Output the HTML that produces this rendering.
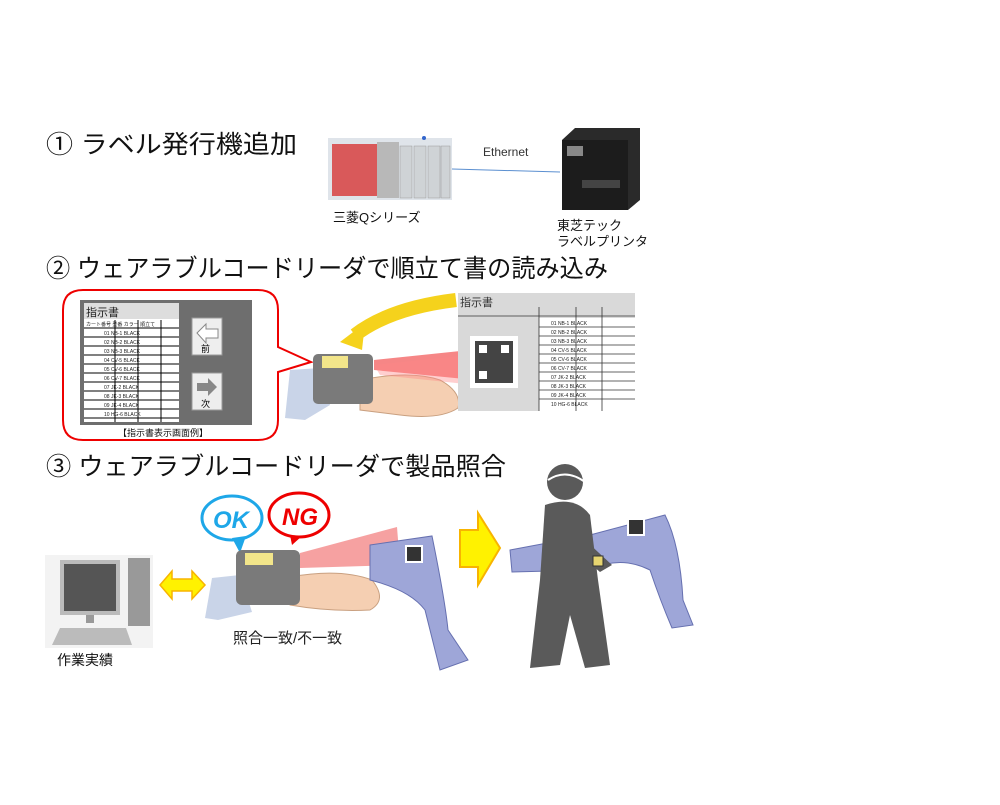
<!DOCTYPE html>
<html><head><meta charset="utf-8"><style>
html,body{margin:0;padding:0;background:#fff;}
svg text{font-family:"Liberation Sans","Noto Sans CJK JP",sans-serif;}
</style></head><body>
<svg width="1000" height="800" viewBox="0 0 1000 800" xmlns="http://www.w3.org/2000/svg">
<rect width="1000" height="800" fill="#fff"/>
<!-- Headings -->
<text x="46" y="153" font-size="25" fill="#111" textLength="251" lengthAdjust="spacingAndGlyphs">① ラベル発行機追加</text>
<text x="46" y="277" font-size="25" fill="#111" textLength="562" lengthAdjust="spacingAndGlyphs">② ウェアラブルコードリーダで順立て書の読み込み</text>
<text x="46" y="475" font-size="25" fill="#111" textLength="460" lengthAdjust="spacingAndGlyphs">③ ウェアラブルコードリーダで製品照合</text>

<!-- Section 1: PLC -->
<rect x="328" y="138" width="124" height="62" fill="#dfe4ea"/>
<rect x="332" y="144" width="45" height="52" fill="#d9595a"/>
<rect x="377" y="142" width="22" height="56" fill="#b8b8b8"/>
<g fill="#cfd3d6" stroke="#999" stroke-width="0.5">
<rect x="400" y="146" width="12" height="52"/><rect x="414" y="146" width="12" height="52"/><rect x="428" y="146" width="12" height="52"/><rect x="441" y="146" width="9" height="52"/>
</g>
<circle cx="424" cy="138" r="2" fill="#36c"/>
<line x1="452" y1="169" x2="560" y2="172" stroke="#5b8fd0" stroke-width="1"/>
<text x="483" y="156" font-size="12" fill="#333">Ethernet</text>
<!-- printer -->
<polygon points="562,140 575,128 640,128 640,200 628,210 562,210" fill="#2a2a2a"/>
<rect x="562" y="140" width="66" height="70" fill="#1c1c1c"/>
<rect x="567" y="146" width="16" height="10" fill="#888"/>
<rect x="582" y="180" width="38" height="8" fill="#444"/>
<text x="333" y="222" font-size="13" fill="#111">三菱Qシリーズ</text>
<text x="557" y="230" font-size="13" fill="#111">東芝テック</text>
<text x="557" y="246" font-size="13" fill="#111">ラベルプリンタ</text>

<!-- Section 2: callout -->
<path d="M83,290 H258 Q278,290 278,310 V347 L311,362 L278,372 V420 Q278,440 258,440 H83 Q63,440 63,420 V310 Q63,290 83,290 Z" fill="#fff" stroke="#e00" stroke-width="2"/>
<rect x="80" y="300" width="172" height="125" fill="#6e6e6e"/>
<rect x="84" y="303" width="95" height="119" fill="#fff"/>
<rect x="84" y="303" width="95" height="16" fill="#ddd"/>
<text x="86" y="316" font-size="11" fill="#222">指示書</text>
<text x="86" y="326" font-size="5" fill="#222">カート番号  型番   カラー   順立て</text>
<g stroke="#000" stroke-width="1">
<line x1="84" y1="328" x2="179" y2="328"/><line x1="84" y1="337" x2="179" y2="337"/><line x1="84" y1="346" x2="179" y2="346"/><line x1="84" y1="355" x2="179" y2="355"/><line x1="84" y1="364" x2="179" y2="364"/><line x1="84" y1="373" x2="179" y2="373"/><line x1="84" y1="382" x2="179" y2="382"/><line x1="84" y1="391" x2="179" y2="391"/><line x1="84" y1="400" x2="179" y2="400"/><line x1="84" y1="409" x2="179" y2="409"/><line x1="84" y1="418" x2="179" y2="418"/>
<line x1="115" y1="320" x2="115" y2="422"/><line x1="138" y1="320" x2="138" y2="422"/><line x1="161" y1="320" x2="161" y2="422"/>
</g>
<g font-size="5" fill="#222">
<text x="104" y="335">01 NB-1  BLACK</text><text x="104" y="344">02 NB-2  BLACK</text><text x="104" y="353">03 NB-3  BLACK</text><text x="104" y="362">04 CV-5  BLACK</text><text x="104" y="371">05 CV-6  BLACK</text><text x="104" y="380">06 CV-7  BLACK</text><text x="104" y="389">07 JK-2  BLACK</text><text x="104" y="398">08 JK-3  BLACK</text><text x="104" y="407">09 JK-4  BLACK</text><text x="104" y="416">10 HG-6  BLACK</text>
</g>
<rect x="192" y="318" width="30" height="37" fill="#eee" stroke="#999"/>
<polygon points="197,333 206,324 206,329 218,329 218,338 206,338 206,343" fill="#fff" stroke="#888"/>
<text x="201" y="352" font-size="9">前</text>
<rect x="192" y="373" width="30" height="37" fill="#eee" stroke="#999"/>
<polygon points="197,383 208,383 208,378 217,387 208,396 208,391 197,391" fill="#888"/>
<text x="201" y="407" font-size="9">次</text>
<text x="118" y="436" font-size="9" fill="#111">【指示書表示画面例】</text>

<!-- wrist sec2 -->
<polygon points="290,370 320,368 330,405 305,420 285,418" fill="#c9d4e8"/>
<path d="M360,380 Q410,370 440,380 Q462,392 458,408 Q440,420 400,415 L360,410 Z" fill="#f5cfb2" stroke="#c9a080" stroke-width="1"/>
<rect x="313" y="354" width="60" height="50" rx="5" fill="#7a7a7a"/>
<rect x="322" y="356" width="26" height="12" fill="#f2e58a"/>
<polygon points="374,360 470,350 475,380 374,370" fill="#e22" opacity="0.55"/>
<polygon points="374,365 470,355 475,385 380,375" fill="#f88" opacity="0.4"/>
<path d="M456,300 Q390,308 355,335" fill="none" stroke="#f5d21c" stroke-width="14"/>
<polygon points="340,342 365,323 362,350" fill="#f5d21c"/>
<!-- sheet -->
<rect x="458" y="293" width="177" height="118" fill="#d9d9d9"/>
<text x="460" y="306" font-size="11" fill="#333">指示書</text>
<rect x="539" y="318" width="96" height="93" fill="#fff"/>
<g stroke="#333" stroke-width="0.8">
<line x1="458" y1="316" x2="635" y2="316"/>
<line x1="539" y1="327" x2="635" y2="327"/><line x1="539" y1="336" x2="635" y2="336"/><line x1="539" y1="345" x2="635" y2="345"/><line x1="539" y1="354" x2="635" y2="354"/><line x1="539" y1="363" x2="635" y2="363"/><line x1="539" y1="372" x2="635" y2="372"/><line x1="539" y1="381" x2="635" y2="381"/><line x1="539" y1="390" x2="635" y2="390"/><line x1="539" y1="399" x2="635" y2="399"/>
<line x1="539" y1="307" x2="539" y2="411"/><line x1="576" y1="307" x2="576" y2="411"/><line x1="602" y1="307" x2="602" y2="411"/>
</g>
<g font-size="5" fill="#222">
<text x="551" y="325">01 NB-1    BLACK</text><text x="551" y="334">02 NB-2    BLACK</text><text x="551" y="343">03 NB-3    BLACK</text><text x="551" y="352">04 CV-5    BLACK</text><text x="551" y="361">05 CV-6    BLACK</text><text x="551" y="370">06 CV-7    BLACK</text><text x="551" y="379">07 JK-2    BLACK</text><text x="551" y="388">08 JK-3    BLACK</text><text x="551" y="397">09 JK-4    BLACK</text><text x="551" y="406">10 HG-6    BLACK</text>
</g>
<rect x="470" y="336" width="48" height="52" fill="#fff"/>
<rect x="475" y="341" width="38" height="42" fill="#444"/>
<rect x="479" y="345" width="8" height="8" fill="#fff"/><rect x="501" y="345" width="8" height="8" fill="#fff"/><rect x="479" y="371" width="8" height="8" fill="#fff"/>

<!-- Section 3 -->
<ellipse cx="232" cy="518" rx="30" ry="22" fill="#fff" stroke="#1ea7e8" stroke-width="3"/>
<polygon points="232,538 240,553 246,536" fill="#1ea7e8"/>
<text x="213" y="528" font-size="24" font-weight="bold" fill="#1ea7e8" font-style="italic">OK</text>
<ellipse cx="299" cy="515" rx="30" ry="22" fill="#fff" stroke="#e00" stroke-width="3"/>
<polygon points="290,535 292,545 302,536" fill="#e00"/>
<text x="282" y="525" font-size="24" font-weight="bold" fill="#e00" font-style="italic">NG</text>
<!-- computer -->
<rect x="45" y="555" width="108" height="93" fill="#f3f3f3"/>
<rect x="60" y="560" width="60" height="55" fill="#bbb"/><rect x="64" y="564" width="52" height="47" fill="#555"/>
<rect x="86" y="615" width="8" height="8" fill="#999"/>
<polygon points="60,628 126,628 132,645 52,645" fill="#bbb"/>
<rect x="128" y="558" width="22" height="68" fill="#999"/>
<text x="57" y="665" font-size="14" fill="#111">作業実績</text>
<polygon points="160,585 172,571 172,579 192,579 192,571 205,585 192,599 192,591 172,591 172,599" fill="#fff200" stroke="#f8b400" stroke-width="1.5"/>
<!-- wrist 3 -->
<polygon points="212,578 240,575 252,612 218,620 205,618" fill="#c9d4e8"/>
<path d="M290,577 Q340,568 372,580 Q388,600 370,610 Q330,612 290,605 Z" fill="#f5cfb2" stroke="#c9a080"/>
<rect x="236" y="550" width="64" height="55" rx="6" fill="#7a7a7a"/>
<rect x="245" y="553" width="28" height="12" fill="#f2e58a"/>
<polygon points="300,553 397,527 400,565 300,568" fill="#e44" opacity="0.5"/>
<text x="233" y="643" font-size="15" fill="#222">照合一致/不一致</text>
<!-- purple part -->
<path d="M370,545 L432,536 Q445,600 448,630 L468,660 L440,670 Q430,630 425,610 Q410,590 370,580 Z" fill="#9ea6d8" stroke="#6670b0"/>
<rect x="405" y="545" width="18" height="18" fill="#fff"/><rect x="407" y="547" width="14" height="14" fill="#333"/>
<!-- yellow arrow -->
<polygon points="460,530 478,530 478,513 500,548 478,585 478,567 460,567" fill="#fff200" stroke="#f8b400" stroke-width="2"/>
<!-- worker -->
<path d="M510,550 L590,535 L665,515 Q680,545 683,600 L693,625 L672,628 Q660,600 650,570 Q620,555 590,570 L512,572 Z" fill="#9ea6d8" stroke="#6670b0"/>
<rect x="627" y="518" width="18" height="18" fill="#fff"/><rect x="629" y="520" width="14" height="14" fill="#333"/>
<circle cx="565" cy="482" r="18" fill="#5a5a5a"/>
<path d="M548,480 Q566,468 585,482" stroke="#fff" stroke-width="2" fill="none"/>
<path d="M545,505 Q575,495 590,515 L598,580 L540,580 Z" fill="#5a5a5a"/>
<path d="M585,540 L612,565 L600,572 L580,555 Z" fill="#5a5a5a"/>
<path d="M540,580 L598,580 L610,665 L585,668 L570,615 L560,665 L530,668 Z" fill="#5a5a5a"/>
<rect x="593" y="556" width="10" height="10" fill="#e6d470" stroke="#333"/>
</svg>
</body></html>
